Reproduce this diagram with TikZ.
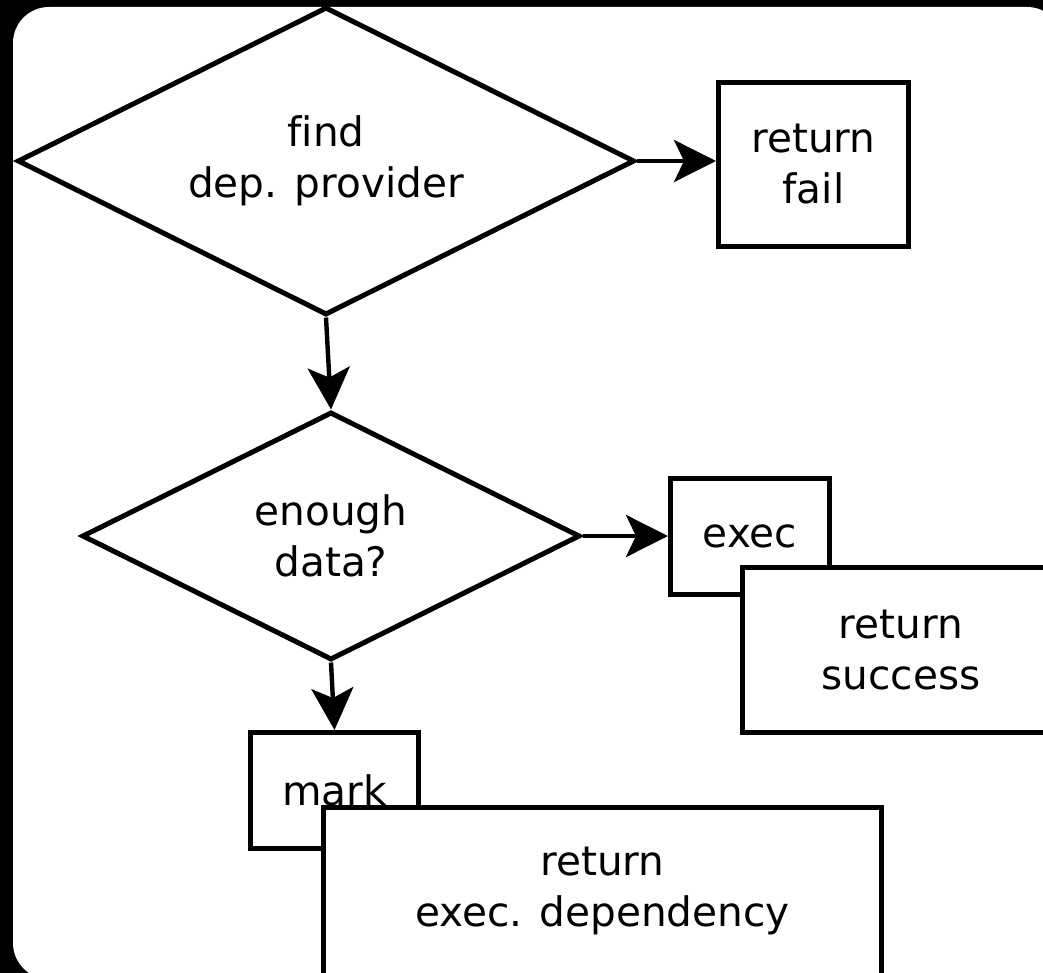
\documentclass[tikz,border=0pt]{standalone}
\usepackage{fontspec}
\setmainfont{DejaVu Sans}[Ligatures=NoCommon]
\usetikzlibrary{shapes.geometric,arrows.meta}

\begin{document}
\begin{tikzpicture}[x=0.5pt,y=-0.5pt,
    font=\fontsize{20.3}{25.5}\selectfont,
    decision/.style={draw, diamond, shape aspect=2, line width=2.5pt, inner sep=0pt, align=center},
    block/.style={draw, rectangle, fill=white, line width=2.5pt, inner sep=0pt, align=center},
    flow/.style={-{Stealth[length=21pt,width=21pt,inset=5pt]}, line width=2.2pt}]
% frame
\useasboundingbox (0,0) rectangle (1043,973);
\fill[black] (0,0) rectangle (1043,973);
\fill[white, rounded corners=18pt] (13,7) rectangle (1063,979);

% decisions
\node[decision, minimum width=308.5pt, minimum height=154pt] (find) at (326,161) {find\\dep. provider};
\node[decision, minimum width=249pt, minimum height=124pt] (enough) at (331,536) {enough\\data?};

% results
\node[block, minimum width=95pt, minimum height=82pt] (fail) at (813.5,164.5) {return\\fail};
\node[block, minimum width=79.5pt, minimum height=58pt] (exec) at (750,536.5) {exec};
\node[block, minimum width=158.5pt, minimum height=82.5pt] (success) at (901,650) {return\\success};
\node[block, minimum width=84pt, minimum height=58pt] (mark) at (334.5,790.5) {mark};
\node[block, minimum width=279pt, minimum height=84pt] (dep) at (602.5,891) {return\\exec. dependency};

% connectors
\draw[flow] (find.east) -- (find.east -| fail.west);
\draw[flow] (find.south) -- (enough.north);
\draw[flow] (enough.east) -- (enough.east -| exec.west);
\draw[flow] (enough.south) -- (mark.north);
\end{tikzpicture}
\end{document}
